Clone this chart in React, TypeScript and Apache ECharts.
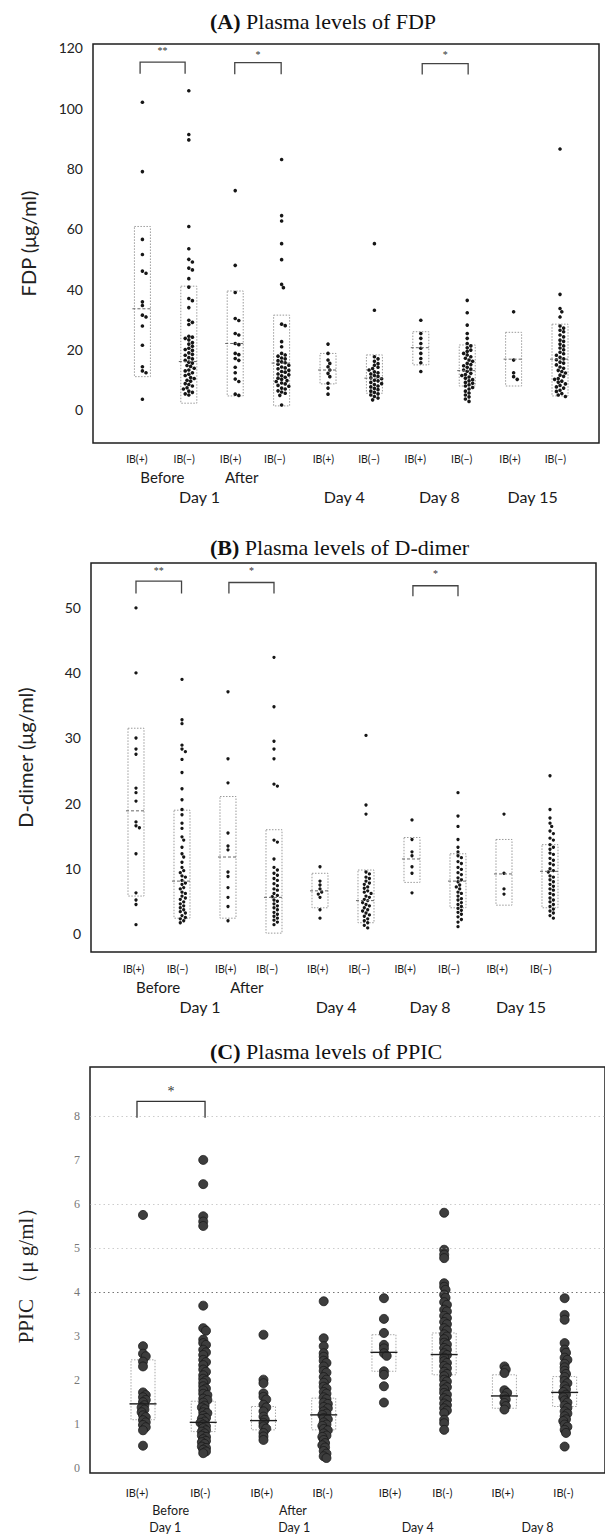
import React, { useEffect, useRef } from 'react';
import * as echarts from 'echarts';

// ---------- DATA ----------
// (A) FDP, μg/ml — ten groups
const FDP_1 = [102, 79, 56.5, 51.5, 46, 45.3, 35.8, 34.6, 31.4, 30.8, 27.8, 21.4, 14.3, 12.9, 12.3, 3.5];
const FDP_2 = [105.8, 91.3, 89.5, 60.8, 53.4, 49.9, 49, 47, 46.4, 43.5, 40.7, 36.9, 36.2, 33.9, 29.7, 29, 28.3, 24.4, 24.1, 23.7, 23.2, 22.3, 21.8, 21.1, 20.4, 20, 19.7, 18.9, 18.4, 18.1, 17.3, 16.9, 16.4, 15.8, 15.5, 14.7, 14.4, 13.8, 13.2, 12.9, 12.3, 11.8, 11.4, 10.7, 10.4, 9.8, 9.5, 8.7, 8.4, 7.9, 7.3, 6.9, 6.2, 5.8, 5.3, 4.9];
const FDP_3 = [72.7, 47.9, 38.9, 30.3, 29.6, 25.3, 24.8, 22, 21.6, 18.7, 18.3, 17, 16.4, 14.1, 12.3, 10.2, 9.4, 5.2, 4.8];
const FDP_4 = [83, 64.4, 62.6, 55.1, 49.8, 41.6, 40.5, 28.4, 27.9, 22.6, 20.9, 18.7, 18.2, 17.8, 17.2, 16.9, 16.3, 15.9, 15.6, 15.1, 14.8, 14.2, 13.9, 13.6, 13.1, 12.7, 12.5, 11.9, 11.6, 11.3, 10.8, 10.5, 10.1, 9.7, 9.4, 8.9, 8.6, 8.1, 7.8, 7.2, 6.9, 6.3, 5.9, 5.5, 4.8, 1.6];
const FDP_5 = [21.8, 18.7, 16.5, 15.4, 14.3, 13.2, 12.1, 11, 8.8, 7.2, 5.2];
const FDP_6 = [55.1, 33, 17.6, 16.9, 16.1, 15.3, 14.8, 14.1, 13.7, 13.2, 12.6, 12.3, 11.9, 11.4, 11.1, 10.6, 10.3, 9.8, 9.6, 9.1, 8.7, 8.4, 7.9, 7.6, 7.1, 6.7, 6.2, 5.8, 5.3, 4.9, 4.4, 3.9, 3.3];
const FDP_7 = [29.7, 25.3, 23.7, 22, 20.4, 18.7, 17, 15.6, 12.7];
const FDP_8 = [36.3, 32.2, 28.1, 25.3, 23.7, 22, 21.2, 20.6, 19.8, 19.4, 18.7, 18.2, 17.6, 17.1, 16.5, 16.1, 15.4, 15, 14.6, 14.1, 13.5, 13.2, 12.8, 12.1, 11.7, 11.4, 10.9, 10.5, 10, 9.6, 9.1, 8.8, 8.3, 7.9, 7.4, 6.9, 6.2, 5.6, 4.9, 4.3, 3.6, 2.8];
const FDP_9 = [32.5, 16.5, 12.3, 11, 10.1];
const FDP_10 = [86.5, 38.3, 33.6, 32.5, 30.8, 27.8, 27.1, 26.4, 25.9, 24.8, 24.2, 23.1, 22.7, 21.8, 21.2, 20.5, 19.9, 19.1, 18.6, 18.1, 17.4, 16.9, 16.6, 15.8, 15.5, 14.9, 14.2, 13.8, 13.1, 12.7, 12.2, 11.5, 11.1, 10.4, 10.1, 9.5, 9.2, 8.6, 8.1, 7.6, 7.2, 6.5, 6.1, 5.4, 4.9, 4.4];
// boxes: [low, high, median]
const FDP_BOX = [[11, 60.8, 33.5], [2.2, 41, 16], [4.6, 39.4, 22], [1.3, 31.4, 15.5], [8.6, 18.7, 13.2], [5.5, 18.2, 10.5], [14.9, 25.9, 20.6], [7.9, 21.5, 13], [7.9, 25.7, 16.8], [4.6, 28.4, 16.8]];
// brackets: [fromX, toX, top, leg, starY]
const FDP_BRACKETS = [[0.95, 1.92, 115.3, 111.4, 119.2], [2.99, 3.99, 115.1, 111.3, 117.8], [7.03, 8.02, 114.8, 111.2, 117.8]];
const FDP_STARS = ['**', '*', '*'];
const FDP_TICKS = [0, 20, 40, 60, 80, 100, 120];

// (B) D-dimer, μg/ml
const DD_1 = [50, 40, 30, 28.3, 27.5, 22.3, 21.6, 20.3, 17.1, 16.5, 16.2, 12.2, 6.2, 5.1, 4.4, 1.3];
const DD_2 = [39, 32.8, 32.2, 28.9, 28.3, 27.9, 26.7, 24.7, 22.2, 20.5, 19, 18.2, 16.9, 16.1, 14.8, 14.3, 13.2, 12.2, 11.7, 10.9, 10.1, 9.6, 9.3, 8.8, 8.6, 8.1, 7.7, 7.5, 7, 6.8, 6.3, 6.1, 5.7, 5.4, 5.2, 4.8, 4.5, 4.2, 3.9, 3.6, 3.3, 3.1, 2.7, 2.4, 2.2, 1.9, 1.6];
const DD_3 = [37.1, 26.8, 23.1, 15.4, 13.4, 12.8, 9.4, 8.7, 7, 5.5, 4.1, 1.9];
const DD_4 = [42.4, 34.8, 29.5, 28.3, 26.8, 22.9, 22.6, 14.3, 14, 11.4, 10.1, 9.7, 9.2, 8.9, 8.4, 8.1, 7.6, 7.3, 6.8, 6.6, 6.1, 5.8, 5.6, 5.1, 4.9, 4.5, 4.2, 3.9, 3.6, 3.2, 2.9, 2.6, 2.3, 2, 1.7, 1.3];
const DD_5 = [10.2, 8, 7.4, 6.8, 6.3, 6, 5.5, 3.6, 2.3];
const DD_6 = [30.4, 19.7, 18.3, 9.4, 9.1, 8.6, 8.4, 8, 7.7, 7.5, 7.1, 6.9, 6.5, 6.3, 6.1, 5.7, 5.5, 5.2, 5, 4.7, 4.4, 4.2, 3.9, 3.6, 3.4, 3.1, 2.8, 2.6, 2.2, 1.9, 1.6, 1.2, 0.8];
const DD_7 = [17.4, 14.4, 12.5, 11.9, 10.2, 9.2, 6.2];
const DD_8 = [21.6, 18, 16.4, 14.4, 13.2, 12.5, 11.9, 11.6, 11, 10.7, 10.1, 9.8, 9.3, 9, 8.5, 8.2, 7.9, 7.4, 7.1, 6.8, 6.3, 6.1, 5.7, 5.3, 5.1, 4.7, 4.4, 4.1, 3.8, 3.5, 3.2, 2.9, 2.5, 2.1, 1.7, 1];
const DD_9 = [18.3, 9.2, 6.8, 6];
const DD_10 = [24.2, 19, 17.7, 16.9, 16.4, 15.7, 15.3, 14.6, 14.3, 13.6, 13.2, 12.9, 12.3, 12.1, 11.5, 11.2, 10.7, 10.5, 9.9, 9.6, 9.4, 8.8, 8.6, 8.2, 7.9, 7.5, 7.2, 6.8, 6.6, 6.1, 5.9, 5.4, 5.1, 4.8, 4.4, 4.1, 3.7, 3.4, 3.1, 2.7, 2.3];
const DD_BOX = [[5.7, 31.5, 18.8], [2.3, 18.9, 8], [2.3, 21, 11.7], [0, 15.9, 5.5], [3.9, 9.2, 6.5], [1.6, 9.7, 5], [7.8, 14.7, 11.4], [3.9, 12.2, 8], [4.3, 14.4, 9.1], [3.9, 13.6, 9.5]];
const DD_BRACKETS = [[1.0, 1.99, 54.1, 52.2, 55.7], [3.02, 4.0, 53.9, 52.2, 55.7], [7.02, 8.0, 53.4, 51.8, 55.3]];
const DD_STARS = ['**', '*', '*'];
const DD_TICKS = [0, 10, 20, 30, 40, 50];

// (C) PPIC, μg/ml — eight groups
const PPIC_1 = [5.75, 2.77, 2.6, 2.54, 2.42, 2.31, 1.72, 1.66, 1.61, 1.55, 1.5, 1.43, 1.38, 1.33, 1.27, 1.2, 1.16, 1.09, 1.04, 0.98, 0.93, 0.86, 0.51];
const PPIC_2 = [7.0, 6.45, 5.72, 5.6, 5.5, 3.69, 3.18, 3.12, 2.92, 2.84, 2.8, 2.69, 2.63, 2.57, 2.46, 2.41, 2.34, 2.24, 2.19, 2.11, 2.03, 1.99, 1.94, 1.86, 1.81, 1.77, 1.69, 1.66, 1.58, 1.55, 1.49, 1.42, 1.38, 1.34, 1.27, 1.25, 1.19, 1.14, 1.12, 1.06, 1.03, 0.99, 0.95, 0.91, 0.86, 0.83, 0.79, 0.74, 0.71, 0.66, 0.62, 0.59, 0.55, 0.49, 0.46, 0.42, 0.38, 0.34];
const PPIC_3 = [3.03, 2.01, 1.93, 1.7, 1.62, 1.56, 1.44, 1.38, 1.29, 1.17, 1.1, 1.03, 0.95, 0.9, 0.8, 0.72, 0.64];
const PPIC_4 = [3.79, 2.95, 2.77, 2.61, 2.53, 2.44, 2.39, 2.31, 2.21, 2.17, 2.07, 2.01, 1.94, 1.85, 1.81, 1.73, 1.69, 1.61, 1.57, 1.49, 1.46, 1.39, 1.36, 1.29, 1.24, 1.21, 1.14, 1.11, 1.04, 0.99, 0.96, 0.89, 0.86, 0.79, 0.74, 0.71, 0.64, 0.57, 0.52, 0.47, 0.39, 0.33, 0.27, 0.23];
const PPIC_5 = [3.86, 3.39, 3.07, 2.8, 2.72, 2.61, 2.55, 2.2, 2.12, 1.86, 1.49];
const PPIC_6 = [5.8, 4.96, 4.85, 4.77, 4.2, 4.12, 4.05, 3.94, 3.87, 3.77, 3.71, 3.6, 3.56, 3.46, 3.41, 3.32, 3.27, 3.18, 3.13, 3.04, 2.99, 2.93, 2.85, 2.81, 2.73, 2.69, 2.61, 2.57, 2.51, 2.43, 2.39, 2.32, 2.27, 2.19, 2.14, 2.09, 2.01, 1.97, 1.89, 1.84, 1.79, 1.71, 1.67, 1.59, 1.55, 1.47, 1.43, 1.36, 1.31, 1.25, 1.1, 1.02, 0.87];
const PPIC_7 = [2.31, 2.24, 2.16, 1.77, 1.71, 1.63, 1.56, 1.48, 1.41, 1.33];
const PPIC_8 = [3.86, 3.48, 3.37, 2.84, 2.69, 2.62, 2.51, 2.46, 2.37, 2.29, 2.21, 2.14, 2.07, 1.98, 1.93, 1.86, 1.79, 1.73, 1.67, 1.61, 1.54, 1.49, 1.42, 1.37, 1.29, 1.24, 1.18, 1.11, 1.07, 0.99, 0.94, 0.87, 0.8, 0.49];
const PPIC_BOX = [[1.1, 2.46, 1.46], [0.83, 1.52, 1.04], [0.87, 1.4, 1.08], [0.87, 1.59, 1.21], [2.2, 3.03, 2.63], [2.12, 3.07, 2.58], [1.36, 2.12, 1.64], [1.4, 2.08, 1.72]];
const PPIC_BRACKETS = [[0.9, 2.03, 8.33, 7.96, 8.55]];
const PPIC_STARS = ['*'];
const PPIC_TICKS = [0, 1, 2, 3, 4, 5, 6, 7, 8];
const PPIC_REF_LINES = [4, 5, 6, 8];

// x-axis labels
const IB_AB = ['IB(+)', 'IB(−)', 'IB(+)', 'IB(−)', 'IB(+)', 'IB(−)', 'IB(+)', 'IB(−)', 'IB(+)', 'IB(−)'];
const PHASE_AB = ['Before', 'After'];
const DAY_AB = ['Day 1', 'Day 4', 'Day 8', 'Day 15'];
const IB_C = ['IB(+)', 'IB(-)', 'IB(+)', 'IB(-)', 'IB(+)', 'IB(-)', 'IB(+)', 'IB(-)'];
const PHASE_C = ['Before', 'After'];
const DAY_C = ['Day 1', 'Day 1', 'Day 4', 'Day 8'];

// ---------- LAYOUT ----------
const SANS = 'Lato, "Open Sans", "DejaVu Sans", sans-serif';
const SERIF = '"Liberation Serif", "DejaVu Serif", serif';

type PanelCfg = {
  title: [string, string];
  titleTop: number;
  cols: number[][];
  boxes: number[][];
  brackets: number[][];
  stars: string[];
  ticks: number[];
  left: number; top: number; width: number; height: number;
  xMin: number; xMax: number; yMin: number; yMax: number;
  yName: string; yNameFont: string; yNameSize: number; yNameGap: number;
  tickFont: string; tickSize: number; tickColor: string;
  ib: string[]; ibPos: number[]; ibOffset: number; ibSize: number;
  phase: string[]; phasePos: number[]; phaseOffset: number; phaseSize: number;
  day: string[]; dayPos: number[]; dayOffset: number; daySize: number;
  dotSize: number; dotColor: string; dotBorder: number;
  swarmD: number; swarmStep: number; swarmMax: number;
  boxHalf: number; medHalf: number; boxStroke: string; medStroke: string; medDash: number[] | null; medWidth: number;
  bracketColor: string; starSize: number;
  refLines?: number[];
};

const PANELS: PanelCfg[] = [
  {
    title: ['(A)', ' Plasma levels of FDP'], titleTop: 5,
    cols: [FDP_1, FDP_2, FDP_3, FDP_4, FDP_5, FDP_6, FDP_7, FDP_8, FDP_9, FDP_10],
    boxes: FDP_BOX, brackets: FDP_BRACKETS, stars: FDP_STARS, ticks: FDP_TICKS,
    left: 93, top: 44, width: 506, height: 399,
    xMin: -0.065, xMax: 10.84, yMin: -11, yMax: 121.3,
    yName: 'FDP (μg/ml)', yNameFont: SANS, yNameSize: 20, yNameGap: 55,
    tickFont: SANS, tickSize: 14, tickColor: '#222',
    ib: IB_AB, ibPos: [0.88, 1.9, 2.9, 3.85, 4.9, 5.88, 6.88, 7.88, 8.92, 9.9], ibOffset: 10, ibSize: 10.5,
    phase: PHASE_AB, phasePos: [1.43, 3.14], phaseOffset: 26, phaseSize: 15,
    day: DAY_AB, dayPos: [2.23, 5.35, 7.4, 9.41], dayOffset: 45, daySize: 16,
    dotSize: 3.6, dotColor: '#161616', dotBorder: 0,
    swarmD: 3.6, swarmStep: 1.8, swarmMax: 11,
    boxHalf: 8, medHalf: 10, boxStroke: '#9a9a9a', medStroke: '#666', medDash: [3, 2], medWidth: 1,
    bracketColor: '#444', starSize: 10,
  },
  {
    title: ['(B)', ' Plasma levels of D-dimer'], titleTop: 531,
    cols: [DD_1, DD_2, DD_3, DD_4, DD_5, DD_6, DD_7, DD_8, DD_9, DD_10],
    boxes: DD_BOX, brackets: DD_BRACKETS, stars: DD_STARS, ticks: DD_TICKS,
    left: 91, top: 563, width: 505, height: 389,
    xMin: 0.022, xMax: 11.0, yMin: -2.9, yMax: 56.9,
    yName: 'D-dimer (μg/ml)', yNameFont: SANS, yNameSize: 20, yNameGap: 56,
    tickFont: SANS, tickSize: 14, tickColor: '#222',
    ib: IB_AB, ibPos: [0.95, 1.9, 2.95, 3.85, 4.95, 5.85, 6.85, 7.8, 8.85, 9.8], ibOffset: 11, ibSize: 10.5,
    phase: PHASE_AB, phasePos: [1.48, 3.41], phaseOffset: 27, phaseSize: 15,
    day: DAY_AB, dayPos: [2.39, 5.35, 7.39, 9.37], dayOffset: 46, daySize: 16,
    dotSize: 3.3, dotColor: '#161616', dotBorder: 0,
    swarmD: 3.4, swarmStep: 1.7, swarmMax: 12,
    boxHalf: 8, medHalf: 10, boxStroke: '#9a9a9a', medStroke: '#666', medDash: [3, 2], medWidth: 1,
    bracketColor: '#444', starSize: 10,
  },
  {
    title: ['(C)', ' Plasma levels of PPIC'], titleTop: 1035,
    cols: [PPIC_1, PPIC_2, PPIC_3, PPIC_4, PPIC_5, PPIC_6, PPIC_7, PPIC_8],
    boxes: PPIC_BOX, brackets: PPIC_BRACKETS, stars: PPIC_STARS, ticks: PPIC_TICKS,
    left: 90, top: 1067, width: 525, height: 406,
    xMin: 0.12, xMax: 8.67, yMin: -0.11, yMax: 9.11,
    yName: 'PPIC （μ g/ml）', yNameFont: SERIF, yNameSize: 21, yNameGap: 54,
    tickFont: SERIF, tickSize: 12, tickColor: '#777',
    ib: IB_C, ibPos: [0.9, 1.95, 2.97, 3.98, 5.1, 5.97, 6.97, 7.98], ibOffset: 14, ibSize: 11,
    phase: PHASE_C, phasePos: [1.46, 3.49], phaseOffset: 31, phaseSize: 12.5,
    day: DAY_C, dayPos: [1.37, 3.51, 5.56, 7.55], dayOffset: 48, daySize: 12.5,
    dotSize: 9, dotColor: '#3d3d3d', dotBorder: 0.8,
    swarmD: 3.2, swarmStep: 1.4, swarmMax: 4.5,
    boxHalf: 12, medHalf: 13.5, boxStroke: '#a8a8a8', medStroke: '#1e1e1e', medDash: null, medWidth: 1.4,
    bracketColor: '#333', starSize: 14,
    refLines: PPIC_REF_LINES,
  },
];

// simple beeswarm: horizontal pixel offsets so that dots with close values do not collide
function swarm(vals: number[], pyu: number, d: number, step: number, maxOff: number): number[] {
  const idx = vals.map((_, i) => i).sort((a, b) => vals[b] - vals[a]);
  const cands: number[] = [0];
  for (let k = 1; k * step <= maxOff + 1e-9; k++) cands.push(k * step, -k * step);
  const placed: [number, number][] = [];
  const out = new Array(vals.length).fill(0);
  for (const i of idx) {
    const y = vals[i] * pyu;
    let best = 0;
    let bestScore = -1;
    for (const c of cands) {
      let minD = Infinity;
      for (const [px, py] of placed) {
        if (Math.abs(py - y) >= d) continue;
        const dd = Math.hypot(px - c, py - y);
        if (dd < minD) minD = dd;
      }
      if (minD >= d) { best = c; bestScore = Infinity; break; }
      if (minD > bestScore) { bestScore = minD; best = c; }
    }
    placed.push([best, y]);
    out[i] = best;
  }
  return out;
}

function labelAxis(gridIndex: number, p: PanelCfg, pos: number[], texts: string[], offset: number, size: number, font: string, color: string) {
  return {
    gridIndex, type: 'value', min: p.xMin, max: p.xMax, position: 'bottom', offset,
    axisLine: { show: false }, axisTick: { show: false }, splitLine: { show: false },
    axisLabel: {
      customValues: pos,
      margin: 0,
      fontSize: size,
      fontFamily: font,
      color,
      formatter: (v: number) => {
        const i = pos.findIndex((q) => Math.abs(q - v) < 1e-6);
        return i >= 0 ? texts[i] : '';
      },
    },
  };
}

function buildOption() {
  const grids: any[] = [];
  const xAxes: any[] = [];
  const yAxes: any[] = [];
  const series: any[] = [];
  const titles: any[] = [];

  PANELS.forEach((p, g) => {
    grids.push({
      left: p.left, top: p.top, width: p.width, height: p.height,
      show: true, borderColor: '#1e1e1e', borderWidth: 1.5, backgroundColor: 'rgba(0,0,0,0)',
    });
    const xBase = xAxes.length;
    xAxes.push({ gridIndex: g, type: 'value', min: p.xMin, max: p.xMax, show: false });
    const labelColor = '#1a1a1a';
    xAxes.push(labelAxis(g, p, p.ibPos, p.ib, p.ibOffset, p.ibSize, SANS, labelColor));
    xAxes.push(labelAxis(g, p, p.phasePos, p.phase, p.phaseOffset, p.phaseSize, SANS, labelColor));
    xAxes.push(labelAxis(g, p, p.dayPos, p.day, p.dayOffset, p.daySize, SANS, labelColor));

    yAxes.push({
      gridIndex: g, type: 'value', min: p.yMin, max: p.yMax,
      axisLine: { show: false }, axisTick: { show: false }, splitLine: { show: false },
      axisLabel: { customValues: p.ticks, margin: 10, fontSize: p.tickSize, fontFamily: p.tickFont, color: p.tickColor },
      name: p.yName, nameLocation: 'middle', nameGap: p.yNameGap,
      nameTextStyle: { fontSize: p.yNameSize, fontFamily: p.yNameFont, color: '#222' },
    });

    titles.push({
      text: `{b|${p.title[0]}}${p.title[1]}`,
      left: 205, top: p.titleTop,
      textStyle: {
        fontFamily: SERIF, fontSize: 22, fontWeight: 'normal', color: '#111',
        rich: { b: { fontFamily: SERIF, fontSize: 22, fontWeight: 'bold', color: '#111' } },
      },
    });

    const pyu = p.height / (p.yMax - p.yMin);
    const colPx = p.width / (p.xMax - p.xMin);
    const pts: number[][] = [];
    p.cols.forEach((vals, ci) => {
      const offs = swarm(vals, pyu, p.swarmD, p.swarmStep, p.swarmMax);
      vals.forEach((v, k) => pts.push([ci + 1 + offs[k] / colPx, v]));
    });

    const boxData = p.boxes.map((b, i) => [i + 1, b[0], b[1], b[2]]);
    series.push({
      type: 'custom', xAxisIndex: xBase, yAxisIndex: g, z: 1, silent: true, clip: false,
      data: boxData,
      renderItem: (_params: any, api: any) => {
        const c = api.value(0);
        const lo = api.coord([c, api.value(1)]);
        const hi = api.coord([c, api.value(2)]);
        return {
          type: 'rect',
          shape: { x: lo[0] - p.boxHalf, y: hi[1], width: p.boxHalf * 2, height: lo[1] - hi[1] },
          style: { fill: 'rgba(0,0,0,0)', stroke: p.boxStroke, lineWidth: 1, lineDash: [1.5, 1.5] },
        };
      },
    });

    const scatter: any = {
      type: 'scatter', xAxisIndex: xBase, yAxisIndex: g, z: 3, silent: true,
      symbol: 'circle', symbolSize: p.dotSize, data: pts,
      itemStyle: { color: p.dotColor, borderColor: '#1a1a1a', borderWidth: p.dotBorder, opacity: 1 },
    };
    if (p.refLines) {
      scatter.markLine = {
        silent: true, symbol: ['none', 'none'], label: { show: false },
        data: p.refLines.map((v) => ({
          yAxis: v,
          lineStyle: { color: v === 4 ? '#666' : '#aaa', width: 1, type: [1.5, 3], opacity: v === 4 ? 0.9 : 0.6 },
        })),
      };
    }
    series.push(scatter);

    series.push({
      type: 'custom', xAxisIndex: xBase, yAxisIndex: g, z: 4, silent: true, clip: false,
      data: boxData,
      renderItem: (_params: any, api: any) => {
        const m = api.coord([api.value(0), api.value(3)]);
        return {
          type: 'line',
          shape: { x1: m[0] - p.medHalf, y1: m[1], x2: m[0] + p.medHalf, y2: m[1] },
          style: { stroke: p.medStroke, lineWidth: p.medWidth, lineDash: p.medDash || undefined },
        };
      },
    });

    series.push({
      type: 'custom', xAxisIndex: xBase, yAxisIndex: g, z: 5, silent: true, clip: false,
      data: p.brackets,
      renderItem: (params: any, api: any) => {
        const x1 = api.value(0), x2 = api.value(1), top = api.value(2), leg = api.value(3), sy = api.value(4);
        const a = api.coord([x1, leg]);
        const b = api.coord([x1, top]);
        const c = api.coord([x2, top]);
        const d = api.coord([x2, leg]);
        const s = api.coord([(x1 + x2) / 2, sy]);
        return {
          type: 'group',
          children: [
            { type: 'polyline', shape: { points: [a, b, c, d] }, style: { stroke: p.bracketColor, lineWidth: 1.3, fill: 'none' } },
            {
              type: 'text', x: s[0], y: s[1],
              style: { text: p.stars[params.dataIndex], fill: '#333', fontSize: p.starSize, fontFamily: SERIF, align: 'center', verticalAlign: 'middle' },
            },
          ],
        };
      },
    });
  });

  return { animation: false, backgroundColor: '#ffffff', title: titles, grid: grids, xAxis: xAxes, yAxis: yAxes, series };
}

export default function App() {
  const ref = useRef<HTMLDivElement>(null);
  useEffect(() => {
    document.body.style.margin = '0';
    if (!ref.current) return;
    const chart = echarts.init(ref.current, undefined, { renderer: 'svg' });
    chart.setOption(buildOption());
    return () => chart.dispose();
  }, []);
  return <div ref={ref} style={{ position: 'absolute', left: 0, top: 0, width: 605, height: 1538, background: '#fff' }} />;
}
